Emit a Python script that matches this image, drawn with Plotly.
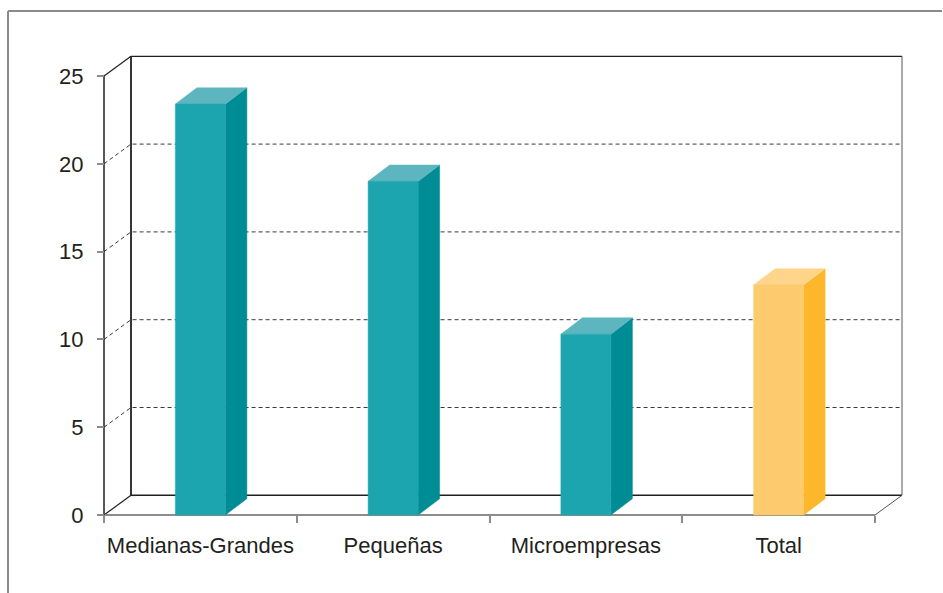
import plotly.graph_objects as go

# ---- data ----
categories = ["Medianas-Grandes", "Pequeñas", "Microempresas", "Total"]
values = [23.4, 19.0, 10.3, 13.1]
y_ticks = [0, 5, 10, 15, 20, 25]
y_max = 25

# ---- styles / geometry (pixel scale helpers) ----
W, H = 943, 593
PX_PER_CAT = 192.75          # px per category unit
PX_PER_VAL = 17.56           # px per value unit
ORIGIN_PX_X = 104
ORIGIN_PX_Y = 515

WALL_DX = 27 / PX_PER_CAT
WALL_DY = 19.7 / PX_PER_VAL
BAR_DX = 21.5 / PX_PER_CAT
BAR_DY = 16.3 / PX_PER_VAL
BAR_HALF = 25 / PX_PER_CAT

TEAL = dict(front="#1DA5AF", side="#008C95", top="#5DB6BF")
ORANGE = dict(front="#FDCA6E", side="#FCB72B", top="#FED58B")
bar_colors = [TEAL, TEAL, TEAL, ORANGE]

DARK = "#231F20"
GRAY = "#8C8C8C"

n = len(categories)
fig = go.Figure()


def segs(points_list, color, width, dash="solid"):
    xs, ys = [], []
    for pts in points_list:
        for (x, y) in pts:
            xs.append(x)
            ys.append(y)
        xs.append(None)
        ys.append(None)
    fig.add_trace(go.Scatter(x=xs, y=ys, mode="lines",
                             line=dict(color=color, width=width, dash=dash),
                             hoverinfo="skip", showlegend=False))


def poly(pts, color):
    xs = [p[0] for p in pts] + [pts[0][0]]
    ys = [p[1] for p in pts] + [pts[0][1]]
    fig.add_trace(go.Scatter(x=xs, y=ys, mode="lines", fill="toself",
                             fillcolor=color, line=dict(color=color, width=0.5),
                             hoverinfo="skip", showlegend=False))


# dashed gridlines (front tick -> back wall -> right)
grid = [[(0, v), (WALL_DX, v + WALL_DY), (n + WALL_DX, v + WALL_DY)]
        for v in y_ticks if 0 < v < y_max]
segs(grid, "#3A3A3A", 1, dash="4px,3px")

# back wall frame
segs([[(WALL_DX, WALL_DY), (WALL_DX, y_max + WALL_DY)]], DARK, 1.8)
segs([[(WALL_DX, y_max + WALL_DY), (n + WALL_DX, y_max + WALL_DY)]], DARK, 1.3)
segs([[(n + WALL_DX, WALL_DY), (n + WALL_DX, y_max + WALL_DY)]], "#555555", 1)
segs([[(WALL_DX, WALL_DY), (n + WALL_DX, WALL_DY)]], DARK, 1.6)
# diagonals
segs([[(0, y_max), (WALL_DX, y_max + WALL_DY)]], DARK, 1.2)
segs([[(0, 0), (WALL_DX, WALL_DY)]], DARK, 1.2)
segs([[(n, 0), (n + WALL_DX, WALL_DY)]], "#555555", 1)
# front floor line and front y axis line
segs([[(0, 0), (n, 0)]], GRAY, 2)
segs([[(0, 0), (0, y_max)]], DARK, 1.5)

# 3D bars
for i, (v, c) in enumerate(zip(values, bar_colors)):
    cx = i + 0.5
    l, r = cx - BAR_HALF, cx + BAR_HALF
    poly([(r, 0), (r + BAR_DX, BAR_DY), (r + BAR_DX, v + BAR_DY), (r, v)], c["side"])
    poly([(l, v), (l + BAR_DX, v + BAR_DY), (r + BAR_DX, v + BAR_DY), (r, v)], c["top"])
    poly([(l, 0), (r, 0), (r, v), (l, v)], c["front"])

x_range = [-ORIGIN_PX_X / PX_PER_CAT, (W - ORIGIN_PX_X) / PX_PER_CAT]
y_range = [-(H - ORIGIN_PX_Y) / PX_PER_VAL, ORIGIN_PX_Y / PX_PER_VAL]

fig.update_layout(
    width=W, height=H,
    margin=dict(l=0, r=0, t=0, b=0),
    paper_bgcolor="white", plot_bgcolor="white",
    font=dict(family="Liberation Sans, Arial, sans-serif", size=22, color=DARK),
    xaxis=dict(range=x_range, anchor="free", position=(H - ORIGIN_PX_Y) / H,
               tickmode="array", tickvals=[i + 0.5 for i in range(n)],
               ticktext=categories, ticks="", showgrid=False, zeroline=False,
               showline=False, ticklabelstandoff=15,
               tickfont=dict(size=22, color=DARK),
               minor=dict(tickmode="array", tickvals=list(range(n + 1)),
                          ticks="outside", ticklen=7, tickwidth=1.5,
                          tickcolor=GRAY, showgrid=False)),
    yaxis=dict(range=y_range, anchor="free", position=ORIGIN_PX_X / W,
               tickmode="array", tickvals=y_ticks,
               ticks="outside", ticklen=7, tickwidth=1.5, tickcolor=GRAY,
               showgrid=False, zeroline=False, showline=False,
               ticklabelstandoff=9,
               tickfont=dict(size=22, color=DARK)),
    shapes=[
        dict(type="line", xref="paper", yref="paper",
             x0=8 / W, x1=8 / W, y0=0, y1=1 - 11 / H,
             line=dict(color="#8A8A8A", width=2)),
        dict(type="line", xref="paper", yref="paper",
             x0=8 / W, x1=942 / W, y0=1 - 11 / H, y1=1 - 11 / H,
             line=dict(color="#8A8A8A", width=2)),
    ],
)

fig.write_html("out.html")
